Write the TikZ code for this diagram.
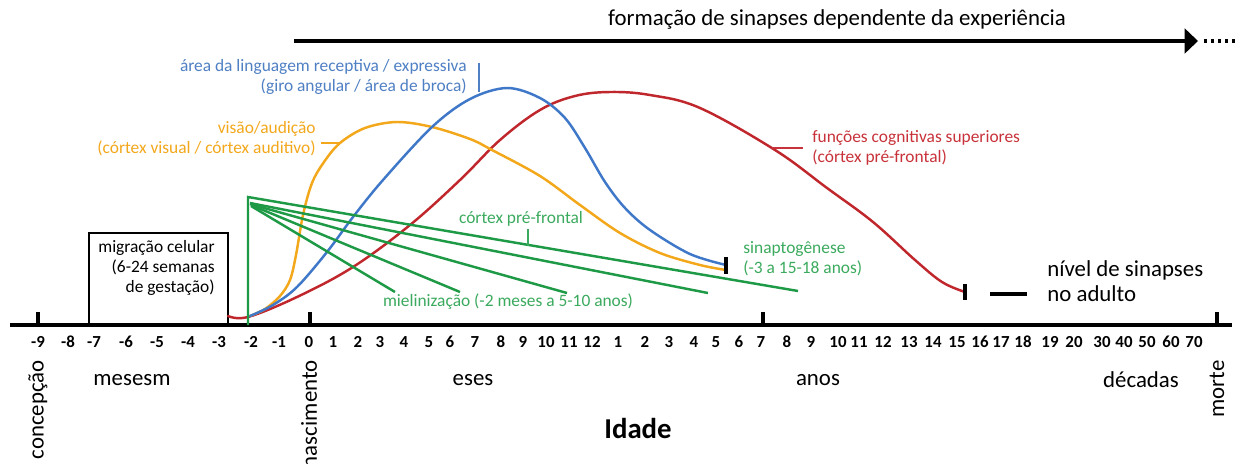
\documentclass[tikz,border=0pt]{standalone}
\usepackage{fontspec}
\setmainfont{Carlito}
\usetikzlibrary{arrows.meta}
\definecolor{cblue}{HTML}{3F78C8}
\definecolor{corange}{HTML}{F3A81C}
\definecolor{cred}{HTML}{C0272D}
\definecolor{cgreen}{HTML}{1E9A47}
\definecolor{tgreen}{HTML}{3BAA5E}
\definecolor{tblue}{HTML}{4F80C4}
\definecolor{tred}{HTML}{C8323A}
\begin{document}
\begin{tikzpicture}[x=0.02cm,y=-0.02cm,
  lbl/.style={font=\fontsize{9.9}{11.2}\selectfont, inner sep=0pt},
  ticklbl/.style={font=\bfseries\fontsize{9.6}{11}\selectfont, inner sep=0pt},
  biglbl/.style={font=\fontsize{13}{14}\selectfont, inner sep=0pt},
  curve/.style={line width=1.4pt, line cap=round},
  thick black/.style={line width=2.3pt, black},
  gline/.style={cgreen, line width=1.4pt}]
\useasboundingbox (0,0) rectangle (1243,463);
\fill[white] (0,0) rectangle (1243,463);

% top arrow
\node[font=\fontsize{13}{15}\selectfont, inner sep=0pt] (ttl) at (837,19) {formação de sinapses dependente da experiência};
\coordinate (arrS) at (294,41);
\coordinate (arrE) at (1198,41);
\coordinate (dotS) at (1204,41);
\coordinate (dotE) at (1236,41);
\draw[line width=2.3pt, -{Triangle[length=7.6pt,width=14pt]}] (arrS) -- (arrE);
\draw[line width=2.6pt, dash pattern=on 1.8pt off 2.2pt] (dotS) -- (dotE);

% axis
\coordinate (axL) at (10,325);
\coordinate (axR) at (1232,325);
\draw[thick black] (axL) -- (axR);
\foreach \x [count=\i] in {38,310,763,1217}{
  \coordinate (mt\i) at (\x,325);
  \coordinate (mtt\i) at (\x,312);
  \draw[thick black] (mt\i) -- (mtt\i);
}

% tick labels
\foreach \x/\t [count=\i] in {38/-9,68/-8,94/-7,126/-6,157/-5,188/-4,219/-3,251/-2,279/-1,309/0,333/1,358/2,380/3,404/4,429/5,450/6,475/7,501/8,523/9,546/10,569/11,592/12,618/1,645/2,669/3,694/4,716/5,739/6,761/7,787/8,811/9,838/10,859/11,883/12,909/13,933/14,957/15,980/16,1001/17,1023/18,1050/19,1074/20,1102/30,1124/40,1147/50,1171/60,1194/70}{
  \node[ticklbl] (tl\i) at (\x,342) {\t};
}

% bottom labels
\node[biglbl] (mes) at (132,380) {mesesm};
\node[biglbl] (ese) at (473,380) {eses};
\node[biglbl] (ano) at (818,380) {anos};
\node[biglbl] (dec) at (1141,380) {décadas};
\node[biglbl, rotate=90, anchor=east] (conc) at (38,360) {concepção};
\node[biglbl, rotate=90, anchor=east] (nasc) at (309,360) {nascimento};
\node[biglbl, rotate=90, anchor=east] (mort) at (1217,360) {morte};
\node[font=\bfseries\fontsize{16.4}{18}\selectfont, inner sep=0pt] (idade) at (638,428) {Idade};

% migration box
\node[draw, line width=1.4pt, minimum width=2.78cm, minimum height=1.84cm, inner sep=0pt] (box) at (158.5,279) {};
\node[lbl, align=right, anchor=east] (boxtxt) at (215,268) {migração celular\\(6-24 semanas\\de gestação)};

% red curve
\draw[curve, cred] plot[smooth, tension=0.6] coordinates {(228,316) (248,317) (297,297) (353,267) (410,225) (460,180) (500,140) (540,110) (575,96) (610,92) (650,95) (700,108) (775,150) (827,188) (873,222) (915,260) (942,282) (965,292)};
% orange curve
\draw[curve, corange] plot[smooth, tension=0.55] coordinates {(250,316) (265,309) (280,296) (290,280) (296,255) (303,215) (312,183) (324,162) (340,143) (365,128) (397,122) (432,127) (470,139) (492,150) (540,176) (580,205) (620,233) (660,253) (700,265) (726,270)};
% blue curve
\draw[curve, cblue] plot[smooth, tension=0.55] coordinates {(250,316) (273,305) (297,287) (327,252) (353,217) (383,180) (432,127) (470,99) (507,88) (540,98) (565,118) (585,148) (605,182) (625,208) (650,230) (690,254) (726,265)};

% green fan
\coordinate (gb) at (248,325);
\coordinate (gt) at (248,197);
\coordinate (g2) at (250,203);
\coordinate (g3) at (250,204);
\coordinate (g4) at (251,205);
\coordinate (g5) at (251,206);
\coordinate (e1) at (798,291);
\coordinate (e2) at (708,293);
\coordinate (e3) at (567,293);
\coordinate (e4) at (460,292);
\coordinate (e5) at (395,292);
\draw[gline] (gb) -- (gt) -- (e1);
\draw[gline] (g2) -- (e2);
\draw[gline] (g3) -- (e3);
\draw[gline] (g4) -- (e4);
\draw[gline] (g5) -- (e5);

% end ticks
\coordinate (bt1) at (726,257);
\coordinate (bt2) at (726,274);
\draw[thick black] (bt1) -- (bt2);
\coordinate (rt1) at (965,284);
\coordinate (rt2) at (965,300);
\draw[thick black] (rt1) -- (rt2);
\coordinate (ad1) at (990,294);
\coordinate (ad2) at (1027,294);
\draw[thick black] (ad1) -- (ad2);
\node[font=\fontsize{13}{14}\selectfont, inner sep=0pt, align=left, anchor=west] (adult) at (1047,281) {nível de sinapses\\no adulto};

% curve labels
\node[lbl, text=tblue, align=right, anchor=east] (blbl) at (467,77) {área da linguagem receptiva / expressiva\\(giro angular / área de broca)};
\coordinate (bl1) at (479,63);
\coordinate (bl2) at (479,92);
\draw[tblue, line width=0.9pt] (bl1) -- (bl2);

\node[lbl, text=corange, align=right, anchor=east] (olbl) at (316,139) {visão/audição\\(córtex visual / córtex auditivo)};
\coordinate (ol1) at (321,143);
\coordinate (ol2) at (340,143);
\draw[corange, line width=0.9pt] (ol1) -- (ol2);

\node[lbl, text=tred, align=left, anchor=west] (rlbl) at (812,148) {funções cognitivas superiores\\(córtex pré-frontal)};
\coordinate (rl1) at (772,148);
\coordinate (rl2) at (803,148);
\draw[tred, line width=0.9pt] (rl1) -- (rl2);

\node[lbl, text=tgreen] (pfc) at (521,219) {córtex pré-frontal};
\coordinate (pf1) at (528,229);
\coordinate (pf2) at (528,246);
\draw[tgreen, line width=0.9pt] (pf1) -- (pf2);

\node[lbl, text=tgreen, align=left, anchor=west] (sin) at (743,259) {sinaptogênese\\(-3 a 15-18 anos)};
\node[lbl, text=tgreen] (miel) at (508,302) {mielinização (-2 meses a 5-10 anos)};
\end{tikzpicture}
\end{document}
